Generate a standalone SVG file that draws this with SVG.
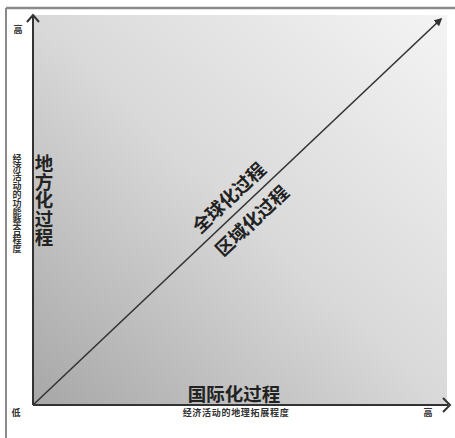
<svg xmlns="http://www.w3.org/2000/svg" width="455" height="438" viewBox="0 0 455 438">
<style>
.cjk{font-family:"Noto Sans CJK SC","Liberation Sans",sans-serif;fill:#222;font-weight:bold}
.small{font-size:9px;fill:#333}
.big{font-size:18.5px}
.ax{stroke:#333;stroke-width:2;fill:none}
</style>
<defs>
<linearGradient id="bg" x1="0" y1="1" x2="1" y2="0">
<stop offset="0" stop-color="#a7a7a7"/>
<stop offset="0.5" stop-color="#d9d9d9"/>
<stop offset="1" stop-color="#f4f4f4"/>
</linearGradient>
<marker id="tri" viewBox="0 0 10 10" refX="8" refY="5" markerWidth="5" markerHeight="5" orient="auto">
<path d="M0,0 L10,5 L0,10 z" fill="#333"/>
</marker>
</defs>
<rect x="0" y="0" width="455" height="438" fill="#fff"/>
<g id="frame">
<line x1="6" y1="8" x2="455" y2="8" stroke="#8a8a8a" stroke-width="2.5"/>
<line x1="6" y1="8" x2="6" y2="438" stroke="#8a8a8a" stroke-width="2"/>
</g>
<g id="plot">
<rect x="33" y="15" width="414" height="390" fill="url(#bg)"/>
</g>
<g id="connectors">
<line class="ax" x1="33" y1="405" x2="33" y2="16"/>
<path class="ax" d="M27,22 L33,15 L39,22" stroke-width="2.5"/>
<line class="ax" x1="33" y1="405" x2="448" y2="405"/>
<path class="ax" d="M443,398 L450,405 L443,412" stroke-width="3"/>
<line x1="33" y1="405" x2="441" y2="19" stroke="#333" stroke-width="1.6" marker-end="url(#tri)"/>
</g>
<g id="y-axis-labels">
<text class="cjk small" x="18" y="33" text-anchor="middle">高</text>
<text class="cjk small" x="17 17 17 17 17 17 17 17 17 17 17" y="162 171 180 189 198 207 216 225 234 243 252" text-anchor="middle">经济活动的功能整合程度</text>
</g>
<g id="x-axis-labels">
<text class="cjk small" x="16" y="416" text-anchor="middle">低</text>
<text class="cjk small" x="428" y="416" text-anchor="middle">高</text>
<text class="cjk small" x="236" y="416" text-anchor="middle" style="letter-spacing:0.7px">经济活动的地理拓展程度</text>
</g>
<g id="local">
<text class="cjk big" x="44 44 44 44 44" y="170 188.5 207 225.5 244" text-anchor="middle">地方化过程</text>
</g>
<g id="international">
<text class="cjk big" x="234" y="401" text-anchor="middle">国际化过程</text>
</g>
<g id="global">
<text class="cjk big" x="0" y="0" text-anchor="middle" dominant-baseline="central" transform="translate(228,197) rotate(-43.4)">全球化过程</text>
</g>
<g id="regional">
<text class="cjk big" x="0" y="0" text-anchor="middle" dominant-baseline="central" transform="translate(251,220) rotate(-43.4)">区域化过程</text>
</g>
</svg>
